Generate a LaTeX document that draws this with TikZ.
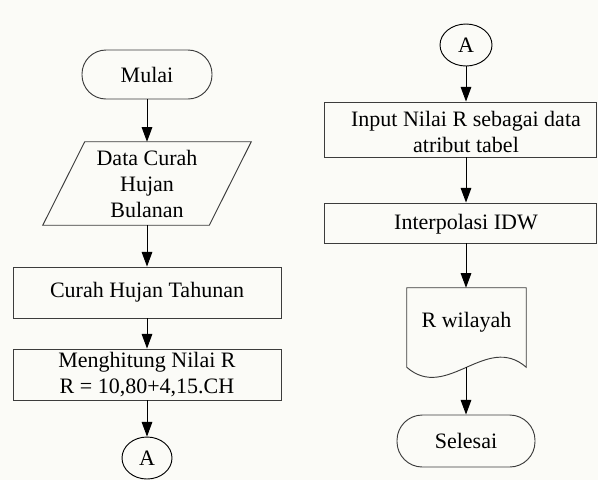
\documentclass[tikz,border=0pt]{standalone}
\usepackage{fontspec}
\setmainfont{Liberation Serif}
\usetikzlibrary{arrows.meta,shapes.geometric,calc}

\definecolor{paper}{RGB}{251,251,247}
\definecolor{edge}{RGB}{60,60,60}

\tikzset{
  base/.style={font=\fontsize{16.5pt}{19.5pt}\selectfont, inner sep=0pt, align=center},
  term/.style={base, draw=edge, line width=0.7pt, rounded corners=18pt},
  procbox/.style={base, draw=edge, line width=0.7pt, minimum width=201pt, minimum height=38.25pt},
  wide/.style={base, draw=edge, line width=0.7pt, minimum width=204pt},
  conn/.style={base, ellipse, draw=black, line width=0.7pt, minimum height=31.5pt},
  outline/.style={draw=edge, line width=0.7pt},
  flow/.style={draw=black, line width=0.7pt, -{Triangle[length=11pt,width=8pt]}}
}

\begin{document}
\begin{tikzpicture}[x=0.75pt, y=-0.75pt]
  % page
  \fill[paper] (0,0) rectangle (598,480);
  \useasboundingbox (0,0) rectangle (598,480);

  % left column
  \node[term, minimum width=97.5pt, minimum height=36.75pt] (mulai) at (147,74.5) {Mulai};
  \node[base, minimum width=124.5pt, minimum height=62.25pt] (data) at (147,183.5) {Data Curah\\Hujan\\Bulanan};
  \draw[outline] ($(data.north west)+(21,0)$) -- ($(data.north east)+(21,0)$)
                 -- ($(data.south east)+(-21,0)$) -- ($(data.south west)+(-21,0)$) -- cycle;
  \node[procbox] (tahunan) at (147,292.5) {Curah Hujan Tahunan};
  \node[procbox] (hitung) at (147,374.5) {Menghitung Nilai R\\R = 10,80+4,15.CH};
  \node[conn, minimum width=37.5pt] (conA) at (147,458) {A};

  \draw[flow] (mulai) -- (data);
  \draw[flow] (data) -- (tahunan);
  \draw[flow] (tahunan) -- (hitung);
  \draw[flow] (hitung) -- (conA);

  % right column
  \node[conn, minimum width=39pt] (conB) at (466,45) {A};
  \node[wide, minimum height=41.25pt] (inbox) at (460.5,129.5) {};
  \node[base] (intext) at (466,132) {Input Nilai R sebagai data\\atribut tabel};
  \node[wide, minimum height=30pt] (idwbox) at (460.5,223) {};
  \node[base] (idwtext) at (466,224) {Interpolasi IDW};
  \node[base, minimum width=89.25pt, minimum height=59.25pt] (doc) at (466.5,327.5) {};
  \node[base] (doctext) at (466.5,322) {R wilayah};
  \draw[outline] (doc.south west) -- (doc.north west) -- (doc.north east) -- (doc.south east)
                 .. controls +(-40,-35) and +(40,35) .. (doc.south west);
  \node[term, minimum width=103.5pt, minimum height=39pt, rounded corners=19pt] (selesai) at (466,441) {Selesai};

  \draw[flow] (conB) -- (conB |- inbox.north);
  \draw[flow] (inbox.south -| conB) -- (idwbox.north -| conB);
  \draw[flow] (idwbox.south -| conB) -- (doc.north -| conB);
  \draw[flow] (doc.south -| conB) -- (selesai);
\end{tikzpicture}
\end{document}
